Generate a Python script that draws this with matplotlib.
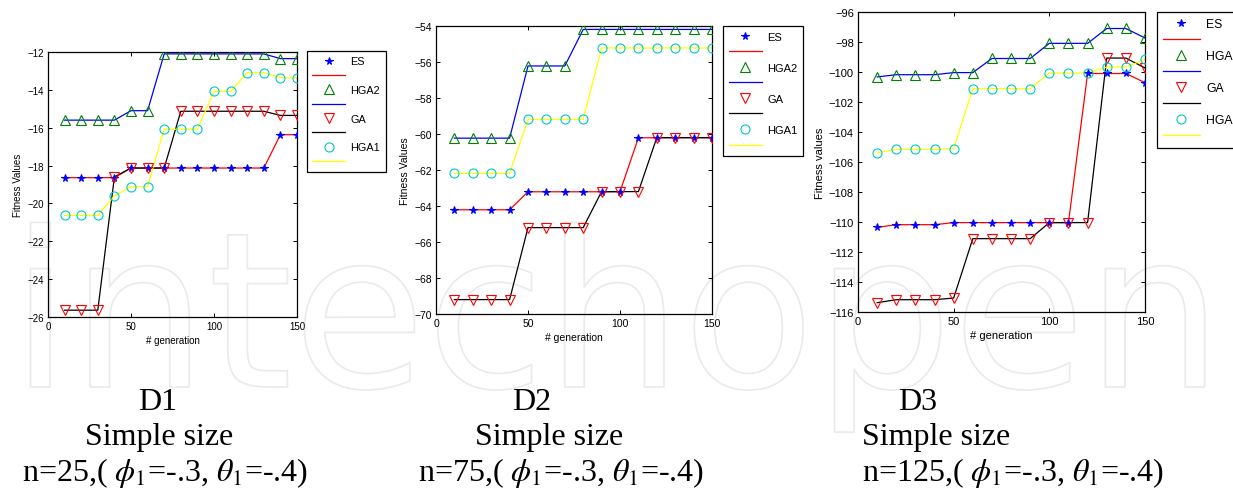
import matplotlib
matplotlib.use("Agg")
import matplotlib.pyplot as plt
import matplotlib.patheffects as pe

plt.rcParams["font.family"] = ["Liberation Sans", "DejaVu Sans"]
plt.rcParams["mathtext.fontset"] = "stix"

W, H = 1233, 489

gen = [10, 20, 30, 40, 50, 60, 70, 80, 90, 100, 110, 120, 130, 140, 150]

# D1, n=25
es_d1 = [-18.64, -18.64, -18.64, -18.64, -18.13, -18.13, -18.13, -18.13,
         -18.13, -18.13, -18.13, -18.13, -18.13, -16.37, -16.37]
hga2_d1 = [-15.6, -15.6, -15.6, -15.6, -15.1, -15.1, -12.1, -12.1,
           -12.1, -12.1, -12.1, -12.1, -12.1, -12.35, -12.35]
ga_d1 = [-25.64, -25.64, -25.64, -18.6, -18.13, -18.13, -18.13, -15.13,
         -15.13, -15.13, -15.13, -15.13, -15.13, -15.35, -15.35]
hga1_d1 = [-20.63, -20.63, -20.63, -19.6, -19.11, -19.11, -16.08, -16.08,
           -16.08, -14.08, -14.08, -13.09, -13.09, -13.36, -13.36]

# D2, n=75
es_d2 = [-64.21, -64.21, -64.21, -64.21, -63.21, -63.21, -63.21, -63.21,
         -63.21, -63.21, -60.21, -60.21, -60.21, -60.21, -60.21]
hga2_d2 = [-60.23, -60.23, -60.23, -60.23, -56.22, -56.22, -56.22, -54.19,
           -54.19, -54.19, -54.19, -54.19, -54.19, -54.19, -54.19]
ga_d2 = [-69.2, -69.2, -69.2, -69.2, -65.2, -65.2, -65.2, -65.2,
         -63.2, -63.2, -63.2, -60.2, -60.2, -60.2, -60.2]
hga1_d2 = [-62.19, -62.19, -62.19, -62.19, -59.19, -59.19, -59.19, -59.19,
           -55.22, -55.22, -55.22, -55.22, -55.22, -55.22, -55.22]

# D3, n=125
es_d3 = [-110.36, -110.18, -110.18, -110.18, -110.04, -110.04, -110.04, -110.04,
         -110.04, -110.04, -110.04, -100.1, -100.1, -100.1, -100.71]
hga2_d3 = [-100.33, -100.18, -100.18, -100.18, -100.04, -100.04, -99.1, -99.1,
           -99.1, -98.09, -98.09, -98.09, -97.1, -97.1, -97.73]
ga_d3 = [-115.38, -115.18, -115.18, -115.18, -115.07, -111.11, -111.11, -111.11,
         -111.11, -110.04, -110.04, -110.04, -99.07, -99.07, -99.73]
hga1_d3 = [-105.38, -105.16, -105.16, -105.16, -105.11, -101.11, -101.11, -101.11,
           -101.11, -100.07, -100.07, -100.07, -99.67, -99.67, -99.16]

PANELS = [
    # (series, ylim, yticks, ylabel, axes box px (l, t, r, b), legend (l, t, fs, spacing), fontsize)
    ((es_d1, hga2_d1, ga_d1, hga1_d1), (-26, -12), range(-26, -11, 2),
     "Fitness Values", (48, 53, 297, 318), (307, 52, 7.8, 0.4), 7.0),
    ((es_d2, hga2_d2, ga_d2, hga1_d2), (-70, -54), range(-70, -53, 2),
     "Fitness Values", (436, 27, 712, 315), (723, 27, 8.0, 0.5), 7.5),
    ((es_d3, hga2_d3, ga_d3, hga1_d3), (-116, -96), range(-116, -95, 2),
     "Fitness values", (858, 13, 1145, 313), (1157, 13, 8.8, 0.33), 8.0),
]

CAPTIONS = [
    ("D1", "Simple size", r"n=25,( $\phi_1$=-.3, $\theta_1$=-.4)", (138, 85, 22)),
    ("D2", "Simple size", r"n=75,( $\phi_1$=-.3, $\theta_1$=-.4)", (512, 475, 418)),
    ("D3", "Simple size", r"n=125,( $\phi_1$=-.3, $\theta_1$=-.4)", (898, 862, 862)),
]

# marker style / line colour per method, MATLAB-style pairs
STYLES = [
    ("ES", dict(marker="*", color="#0000ff", mfc="#0000ff"), "#ff0000"),
    ("HGA2", dict(marker="^", color="#008000", mfc="none"), "#0000ff"),
    ("GA", dict(marker="v", color="#ff0000", mfc="none"), "#000000"),
    ("HGA1", dict(marker="o", color="#00c8c8", mfc="none"), "#ffff00"),
]

fig = plt.figure(figsize=(W / 100, H / 100), dpi=100)

# faint outlined publisher mark behind the plots
fig.text(0.5, 1 - 388 / H, "intechopen", ha="center", va="baseline",
         fontsize=156, family="DejaVu Sans", color="none", zorder=-5,
         path_effects=[pe.Stroke(linewidth=1.2, foreground="#eaeaea")])

for (series, ylim, yticks, ylabel, box, leg, fs) in PANELS:
    l, t, r, b = box
    ax = fig.add_axes([l / W, 1 - b / H, (r - l) / W, (b - t) / H])
    ax.patch.set_alpha(0)
    handles, labels = [], []
    for vals, (name, mstyle, lcol) in zip(series, STYLES):
        star = mstyle["marker"] == "*"
        hm, = ax.plot(gen, vals, ls="none", ms=5.5 if star else 6.5,
                      mew=0.8, marker=mstyle["marker"], color=mstyle["color"],
                      mfc=mstyle["mfc"], zorder=3)
        hl, = ax.plot(gen, vals, "-", color=lcol, lw=0.9, zorder=2)
        handles += [hm, hl]
        labels += [name, ""]
    ax.set_xlim(0, 150)
    ax.set_ylim(*ylim)
    ax.set_xticks([0, 50, 100, 150])
    ax.set_yticks(list(yticks))
    ax.tick_params(direction="in", top=True, right=True, length=3, width=0.7,
                   labelsize=fs, pad=3)
    for s in ax.spines.values():
        s.set_linewidth(0.9)
    ax.set_xlabel("# generation", fontsize=fs, labelpad=3)
    ax.set_ylabel(ylabel, fontsize=fs, labelpad=3)
    lx, ly, lfs, lsp = leg
    lg = fig.legend(handles, labels, loc="upper left",
                    bbox_to_anchor=(lx / W, 1 - ly / H), borderaxespad=0,
                    fontsize=lfs, numpoints=1, handlelength=3.0,
                    handletextpad=0.5, labelspacing=lsp, borderpad=0.5,
                    fancybox=False, edgecolor="black", framealpha=1)
    lg.get_frame().set_linewidth(0.9)

for head, mid, last, (x1, x2, x3) in CAPTIONS:
    kw = dict(family="Liberation Serif", fontsize=23, va="center", ha="left")
    fig.text(x1 / W, 1 - 403 / H, head, **kw)
    fig.text(x2 / W, 1 - 438 / H, mid, **kw)
    fig.text(x3 / W, 1 - 473 / H, last, **kw)

fig.savefig("out.png", dpi=100)
